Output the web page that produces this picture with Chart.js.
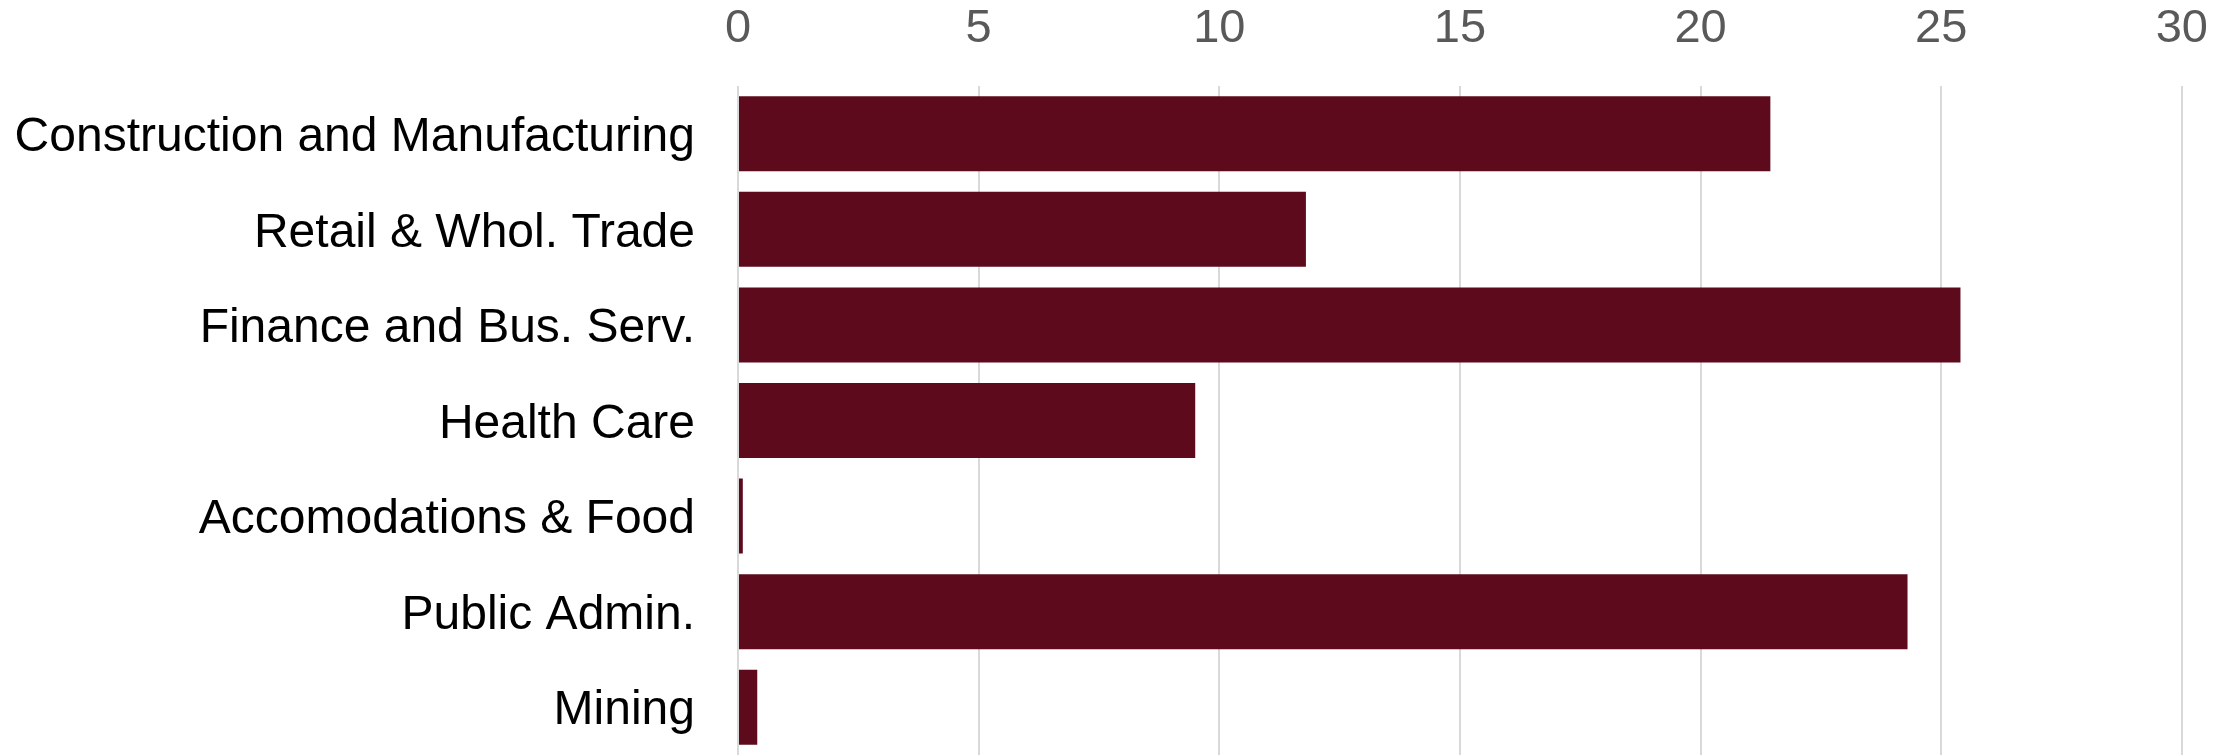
<!DOCTYPE html>
<html>
<head>
<meta charset="utf-8">
<script src="https://cdn.jsdelivr.net/npm/chart.js@4"></script>
<style>
  html, body { margin: 0; padding: 0; background: #fff; }
  #wrap { width: 2237px; height: 755px; position: relative; }
</style>
</head>
<body>
<div id="wrap"><canvas id="chart"></canvas></div>
<script>
// ── DATA ───────────────────────────────────────────────────────
const categories = [
  'Construction and Manufacturing',
  'Retail & Whol. Trade',
  'Finance and Bus. Serv.',
  'Health Care',
  'Accomodations & Food',
  'Public Admin.',
  'Mining'
];
const values = [21.45, 11.8, 25.4, 9.5, 0.1, 24.3, 0.4];
const xTicks = [0, 5, 10, 15, 20, 25, 30];

const barColor = '#5d0b1c';
const fontFamily = "'Liberation Sans', Arial, sans-serif";

// ── CHART ──────────────────────────────────────────────────────
new Chart(document.getElementById('chart'), {
  type: 'bar',
  data: {
    labels: categories,
    datasets: [{
      data: values,
      backgroundColor: barColor,
      borderWidth: 0,
      categoryPercentage: 1,
      barPercentage: 0.785,
    }],
  },
  options: {
    indexAxis: 'y',
    responsive: true,
    maintainAspectRatio: false,
    animation: false,
    layout: { padding: { top: 0, right: 55, bottom: 0, left: 0 } },
    plugins: {
      legend: { display: false },
      tooltip: { enabled: false },
    },
    scales: {
      x: {
        position: 'top',
        min: xTicks[0],
        max: xTicks[xTicks.length - 1],
        afterBuildTicks: axis => { axis.ticks = xTicks.map(v => ({ value: v })); },
        afterFit: axis => { axis.height = 86; },
        grid: { color: '#d9d9d9', lineWidth: 2, drawTicks: false },
        border: { display: false },
        ticks: {
          color: '#595959',
          padding: 29,
          font: { family: fontFamily, size: 47 },
        },
      },
      y: {
        // fixed width; drop the label overhang so bars run to the bottom edge
        afterFit: axis => {
          axis.width = 738;
          axis.paddingTop = 0;
          axis.paddingBottom = 0;
        },
        grid: { display: false, drawTicks: false },
        border: { display: false },
        ticks: {
          color: '#000',
          padding: 43,
          labelOffset: 4,
          font: { family: fontFamily, size: 48 },
        },
      },
    },
  },
});
</script>
</body>
</html>
